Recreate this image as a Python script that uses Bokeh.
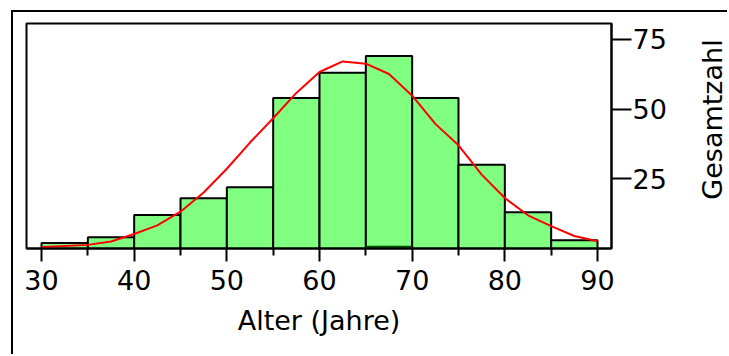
import math
from bokeh.plotting import figure
from bokeh.layouts import row
from bokeh.models import FixedTicker, Range1d, Label
from bokeh.embed import file_html
from bokeh.resources import INLINE

# ---- data ----
bin_left = [30, 35, 40, 45, 50, 55, 60, 65, 70, 75, 80, 85]
bin_right = [35, 40, 45, 50, 55, 60, 65, 70, 75, 80, 85, 90]
counts = [2, 4, 12, 18, 22, 54, 63, 69, 54, 30, 13, 3]

sub_left = [65]
sub_right = [70]
sub_counts = [1]

curve_x = [30, 32.5, 35, 37.5, 40, 42.5, 45, 47.5, 50, 52.5, 55, 57.5, 60,
           62.5, 65, 67.5, 70, 72.5, 75, 77.5, 80, 82.5, 85, 87.5, 90]
curve_y = [0.5, 0.9, 1.3, 2.5, 5.2, 8.3, 13.2, 20.1, 28.6, 38.0, 46.7, 55.8, 63.3,
           67.1, 66.3, 62.6, 54.8, 44.7, 37.0, 26.5, 18.1, 11.9, 8.0, 4.5, 2.6]

x_ticks = [30, 40, 50, 60, 70, 80, 90]
x_minor = [35, 45, 55, 65, 75, 85]
y_ticks = [25, 50, 75]

x_title = "Alter (Jahre)"
y_title = "Gesamtzahl"

FONT = "DejaVu Sans"
FS = "27px"

H = 344
W1, W2 = 667, 49
FRAME_LEFT, FRAME_TOP, FRAME_BOTTOM, FRAME_RIGHT = 13, 11, 236, 598
p = figure(width=W1, height=H, output_backend="svg", toolbar_location=None, tools="",
           x_range=Range1d(28.38, 91.51), y_range=Range1d(0, 80.7),
           y_axis_location="right",
           min_border_left=FRAME_LEFT, min_border_right=W1 - FRAME_RIGHT,
           min_border_top=FRAME_TOP, min_border_bottom=H - FRAME_BOTTOM)

p.grid.visible = False
p.outline_line_color = "black"
p.outline_line_width = 2
p.outline_line_alpha = 1
p.background_fill_color = "white"
p.border_fill_color = "white"

p.quad(left=bin_left, right=bin_right, bottom=0, top=counts,
       fill_color="#80FF80", line_color="black", line_width=2)
p.quad(left=sub_left, right=sub_right, bottom=0, top=sub_counts,
       fill_color="#005000", line_color=None)
p.line(curve_x, curve_y, line_color="red", line_width=2)

xa = p.xaxis[0]
xa.ticker = FixedTicker(ticks=x_ticks, minor_ticks=x_minor)
xa.axis_line_width = 2
xa.major_tick_line_width = 2
xa.minor_tick_line_width = 2
xa.major_tick_out = 13
xa.major_tick_in = 0
xa.minor_tick_out = 7
xa.minor_tick_in = 0
xa.major_label_standoff = 8
xa.major_label_text_font = FONT
xa.major_label_text_font_size = FS
xa.major_label_text_color = "black"
xa.axis_label = x_title
xa.axis_label_text_font = FONT
xa.axis_label_text_font_size = FS
xa.axis_label_text_font_style = "normal"
xa.axis_label_text_color = "black"
xa.axis_label_standoff = 12

ya = p.yaxis[0]
ya.ticker = FixedTicker(ticks=y_ticks, minor_ticks=[])
ya.axis_line_width = 2
ya.major_tick_line_width = 2
ya.major_tick_out = 20
ya.major_tick_in = 0
ya.minor_tick_out = 0
ya.minor_tick_in = 0
ya.major_label_standoff = 1
ya.major_label_text_font = FONT
ya.major_label_text_font_size = FS
ya.major_label_text_color = "black"

# narrow companion figure holding the y-axis title (reads bottom-to-top)
p2 = figure(width=W2, height=H, output_backend="svg", toolbar_location=None, tools="",
            x_range=Range1d(0, 1), y_range=Range1d(0, 1),
            x_axis_location=None, y_axis_location=None,
            min_border_left=0, min_border_right=0, min_border_top=0, min_border_bottom=0)
p2.grid.visible = False
p2.outline_line_color = None
p2.background_fill_color = "white"
p2.border_fill_color = "white"
# screen units are relative to the frame (aligned with the main frame in the row):
# x from its left, y up from its bottom
p2.add_layout(Label(x=32, y=FRAME_BOTTOM - 107, x_units="screen", y_units="screen",
                    text=y_title, angle=math.pi / 2,
                    text_align="center", text_baseline="alphabetic",
                    text_font=FONT, text_font_size=FS, text_color="black"))

layout = row(p, p2, spacing=0)
layout.styles = {"margin-left": "13px", "margin-top": "12px",
                 "box-shadow": "-2px -2px 0px 0px black"}

open("out.html", "w").write(file_html(layout, INLINE))
